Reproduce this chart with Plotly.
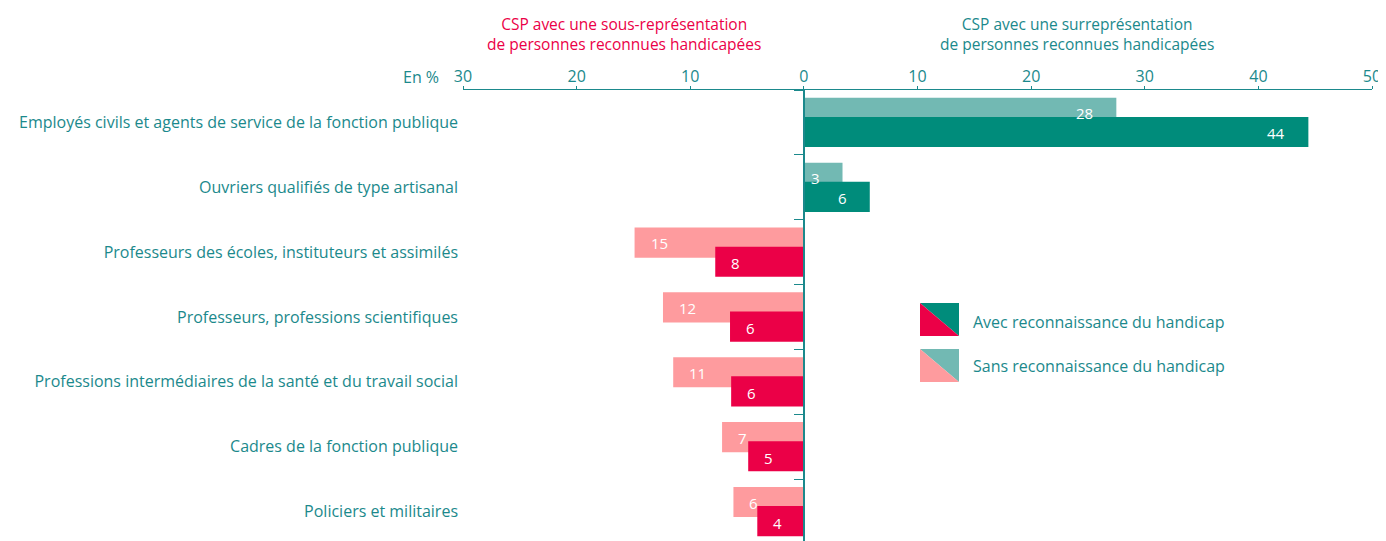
import plotly.graph_objects as go

categories = [
    "Employés civils et agents de service de la fonction publique",
    "Ouvriers qualifiés de type artisanal",
    "Professeurs des écoles, instituteurs et assimilés",
    "Professeurs, professions scientifiques",
    "Professions intermédiaires de la santé et du travail social",
    "Cadres de la fonction publique",
    "Policiers et militaires",
]
sans_values = [27.5, 3.4, -14.9, -12.4, -11.5, -7.2, -6.2]
avec_values = [44.4, 5.8, -7.8, -6.5, -6.4, -4.9, -4.1]
sans_labels = ["28", "3", "15", "12", "11", "7", "6"]
avec_labels = ["44", "6", "8", "6", "6", "5", "4"]
x_tickvals = [-30, -20, -10, 0, 10, 20, 30, 40, 50]
x_ticktext = ["30", "20", "10", "0", "10", "20", "30", "40", "50"]

TEAL_TXT = "#1b898c"
TEAL_DARK = "#008c7b"
TEAL_LIGHT = "#72b9b3"
RED_DARK = "#eb0047"
RED_LIGHT = "#fe9b9e"
FONT = "Open Sans"

fig = go.Figure()
fig.add_trace(go.Bar(
    y=categories, x=sans_values, orientation="h", yaxis="y",
    marker=dict(color=[TEAL_LIGHT if v >= 0 else RED_LIGHT for v in sans_values], line=dict(width=0)),
    offset=-0.38, width=0.465, showlegend=False, hoverinfo="x+y",
))
fig.add_trace(go.Bar(
    y=categories, x=avec_values, orientation="h", yaxis="y2",
    marker=dict(color=[TEAL_DARK if v >= 0 else RED_DARK for v in avec_values], line=dict(width=0)),
    offset=-0.085, width=0.465, showlegend=False, hoverinfo="x+y",
))

x0_paper = (0 - (-30)) / 80.0

# page has an 8px body margin: plot area spans page px x 463..1372, y 90..544
PLOT_TOP, PLOT_BOT = 90, 544
fig.update_layout(
    width=1378, height=PLOT_BOT - 8,
    margin=dict(l=455, r=14, t=PLOT_TOP - 8, b=0),
    paper_bgcolor="white", plot_bgcolor="white",
    barmode="overlay",
    font=dict(family=FONT, color=TEAL_TXT, size=16),
    xaxis=dict(
        side="top", range=[-30, 50], tickvals=x_tickvals, ticktext=x_ticktext,
        showgrid=False, zeroline=False, showline=True, linecolor=TEAL_TXT, linewidth=1.2,
        ticks="outside", ticklen=3, tickcolor=TEAL_TXT, tickfont=dict(size=16, color=TEAL_TXT),
        ticklabeloverflow="allow", ticklabelstandoff=-2, fixedrange=True,
    ),
    yaxis=dict(
        type="category", categoryarray=categories, autorange="reversed",
        showgrid=False, zeroline=False, showline=False, ticks="",
        tickfont=dict(size=16, color=TEAL_TXT), ticklabelstandoff=4,
    ),
    yaxis2=dict(
        type="category", categoryarray=categories, autorange="reversed",
        matches="y", overlaying="y", anchor="free", position=x0_paper, side="left",
        showgrid=False, zeroline=False, showline=True, linecolor=TEAL_TXT, linewidth=1.5,
        ticks="outside", tickson="boundaries", ticklen=9, tickcolor=TEAL_TXT,
        showticklabels=False,
    ),
)


def px2x(px):
    return (px - 463) / 909.0


def px2y(py):
    return (PLOT_BOT - py) / float(PLOT_BOT - PLOT_TOP)


annotations = [
    dict(text="CSP avec une sous-représentation<br>de personnes reconnues handicapées",
         x=px2x(624), y=px2y(34), xref="paper", yref="paper", showarrow=False,
         xanchor="center", yanchor="middle",
         font=dict(size=15.5, color=RED_DARK, family=FONT), align="center"),
    dict(text="CSP avec une surreprésentation<br>de personnes reconnues handicapées",
         x=px2x(1077), y=px2y(34), xref="paper", yref="paper", showarrow=False,
         xanchor="center", yanchor="middle",
         font=dict(size=15.5, color=TEAL_TXT, family=FONT), align="center"),
    dict(text="En %", x=px2x(441), y=px2y(77), xref="paper", yref="paper",
         xanchor="right", yanchor="middle", showarrow=False,
         font=dict(size=16, color=TEAL_TXT, family=FONT)),
    dict(text="Avec reconnaissance du handicap", x=px2x(971), y=px2y(322),
         xref="paper", yref="paper", xanchor="left", yanchor="middle", showarrow=False,
         font=dict(size=16, color=TEAL_TXT, family=FONT)),
    dict(text="Sans reconnaissance du handicap", x=px2x(971), y=px2y(366),
         xref="paper", yref="paper", xanchor="left", yanchor="middle", showarrow=False,
         font=dict(size=16, color=TEAL_TXT, family=FONT)),
]

# bar value labels (drawn above all bars)
for labels, values, yshift in [(sans_labels, sans_values, 9), (avec_labels, avec_values, -11)]:
    for cat, lab, v in zip(categories, labels, values):
        annotations.append(dict(
            text=lab, x=v, y=cat, xref="x", yref="y", showarrow=False,
            xanchor="right" if v >= 0 else "left",
            xshift=-21 if v >= 0 else 14, yshift=yshift, yanchor="middle",
            font=dict(size=15, color="white", family=FONT),
        ))

shapes = []
for (top, bot, c_pos, c_neg) in [(303, 336, TEAL_DARK, RED_DARK), (349, 382, TEAL_LIGHT, RED_LIGHT)]:
    xa, xb = px2x(920), px2x(959)
    ya, yb = px2y(top), px2y(bot)
    shapes.append(dict(type="path", xref="paper", yref="paper",
                       path=f"M {xa},{ya} L {xb},{ya} L {xb},{yb} Z",
                       fillcolor=c_pos, line=dict(width=0)))
    shapes.append(dict(type="path", xref="paper", yref="paper",
                       path=f"M {xa},{ya} L {xa},{yb} L {xb},{yb} Z",
                       fillcolor=c_neg, line=dict(width=0)))

fig.update_layout(annotations=annotations, shapes=shapes)
fig.write_html("out.html")
